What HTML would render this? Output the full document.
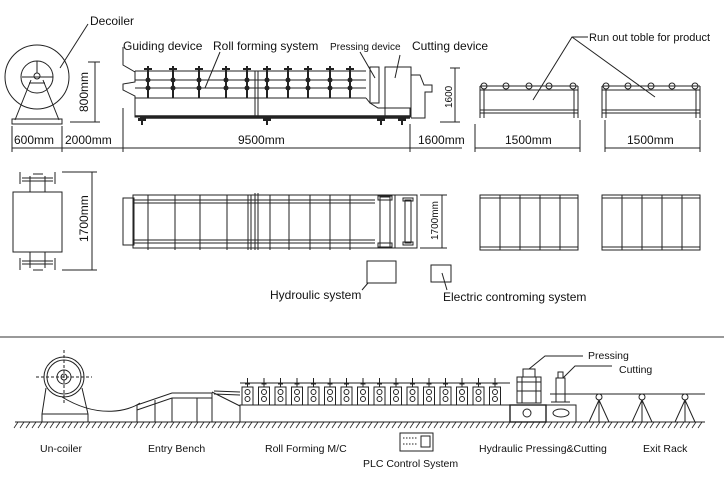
<!DOCTYPE html>
<html><head><meta charset="utf-8"><style>
html,body{margin:0;padding:0;background:#fff}
svg{display:block}
text{font-family:"Liberation Sans",Arial,sans-serif;fill:#111}
</style></head><body>
<svg width="724" height="484" viewBox="0 0 724 484" xmlns="http://www.w3.org/2000/svg">
<g stroke="#222" stroke-width="1" fill="none">
<!-- ===== TOP: decoiler side ===== -->
<circle cx="37" cy="77" r="32"/>
<circle cx="37" cy="77" r="16"/>
<circle cx="37" cy="76" r="3"/>
<line x1="22" y1="77" x2="53" y2="77"/>
<line x1="37" y1="61" x2="37" y2="73"/>
<path d="M31 80 L15 120 M43 80 L59 120 M29 83 L45 83"/>
<rect x="12" y="119" width="50" height="5"/>
<path d="M88 24 L60 68"/>
<!-- 800 dim -->
<path d="M95 62 L95 122 M88 62 L100 62 M70 122 L100 122"/>
<!-- bottom dim line -->
<path d="M12 148 L462 148 M475 148 L580 148 M605 148 L700 148"/>
<path d="M12 126 L12 152 M62 126 L62 152 M123 108 L123 152 M410 124 L410 152 M475 124 L475 152 M580 120 L580 152 M605 120 L605 152 M700 120 L700 152"/>
<!-- roll forming machine side -->
<path d="M135 71 L366 71 M135 80 L366 80 M135 88 L366 88 M135 98 L366 98"/>
<path d="M135 71 L135 82 L123 84 L123 90 L135 96 L135 117 L410 117 L410 108 L378 108 L370 103 L366 98"/>
<path d="M255 71 L255 117 M258 71 L258 117"/>
<path d="M135 116 L410 116 M140 118 L410 118" stroke-width="1.5"/>
<rect x="370" y="67" width="9" height="36"/>
<rect x="385" y="67" width="26" height="50"/>
<path d="M411 75 L420 75 L424 85 L432 85 L432 92 L425 92 L425 118 L411 118"/>
<!-- 1600 dim -->
<path d="M455 68 L455 122 M450 68 L460 68 M440 122 L460 122"/>
<path d="M123 47 L123 65 L135 72 M220 52 L205 88 M360 52 L375 78 M400 55 L395 78"/>
</g>
<g fill="#222">
<!-- rollers -->
<g id="r">
<circle cx="148" cy="80" r="2.5"/><circle cx="148" cy="88" r="2.5"/><rect x="147" y="66" width="2" height="32"/><rect x="144" y="68" width="8" height="2"/>
</g>
<use href="#r" x="25"/><use href="#r" x="51"/><use href="#r" x="78"/><use href="#r" x="99"/>
<use href="#r" x="119"/><use href="#r" x="140"/><use href="#r" x="160"/><use href="#r" x="182"/><use href="#r" x="202"/>
<rect x="138" y="118" width="8" height="3"/><rect x="141" y="118" width="2" height="7"/>
<rect x="263" y="118" width="8" height="3"/><rect x="266" y="118" width="2" height="7"/>
<rect x="377" y="118" width="8" height="3"/><rect x="380" y="118" width="2" height="7"/>
<rect x="398" y="118" width="8" height="3"/><rect x="401" y="118" width="2" height="7"/>
</g>
<!-- runout tables side -->
<g stroke="#222" fill="none">
<path d="M480 90 L578 90 M480 86 L578 86 M480 86 L480 118 M578 86 L578 118 M484 90 L484 118 M574 90 L574 118 M480 110 L578 110 M480 113 L578 113"/>
<path d="M602 90 L700 90 M602 86 L700 86 M602 86 L602 118 M700 86 L700 118 M606 90 L606 118 M696 90 L696 118 M602 110 L700 110 M602 113 L700 113"/>
<circle cx="484" cy="86" r="3"/><circle cx="506" cy="86" r="3"/><circle cx="529" cy="86" r="3"/><circle cx="549" cy="86" r="3"/><circle cx="573" cy="86" r="3"/>
<circle cx="606" cy="86" r="3"/><circle cx="628" cy="86" r="3"/><circle cx="651" cy="86" r="3"/><circle cx="672" cy="86" r="3"/><circle cx="695" cy="86" r="3"/>
<path d="M588 37 L572 37 L533 100 M572 37 L655 97"/>
<!-- ===== MIDDLE: plan view ===== -->
<rect x="13" y="192" width="49" height="60"/>
<path d="M20 172 L20 184 M55 172 L55 184 M22 178 L53 178 M22 181 L53 181 M30 176 L30 192 M45 176 L45 192 M33 174 L43 174"/>
<path d="M20 258 L20 270 M55 258 L55 270 M22 264 L53 264 M22 261 L53 261 M30 252 L30 268 M45 252 L45 268 M33 270 L43 270"/>
<path d="M92 172 L92 270 M62 172 L97 172 M62 270 L97 270"/>
<rect x="133" y="195" width="284" height="53"/>
<rect x="123" y="198" width="11" height="47"/>
<path d="M133 200 L375 200 M133 203 L375 203 M133 240 L375 240 M133 243 L375 243"/>
<path d="M148 195 L148 250 M175 195 L175 250 M200 195 L200 250 M227 195 L227 250 M248 195 L248 250 M251 195 L251 250 M255 193 L255 250 M258 193 L258 250 M270 195 L270 250 M289 195 L289 250 M310 195 L310 250 M330 195 L330 250 M350 195 L350 250"/>
<rect x="380" y="197" width="10" height="50"/><rect x="378" y="196" width="14" height="4"/><rect x="378" y="243" width="14" height="4"/>
<path d="M395 195 L395 248"/>
<rect x="405" y="200" width="6" height="43"/><rect x="403" y="198" width="10" height="3"/><rect x="403" y="242" width="10" height="3"/>
<path d="M442 195 L442 248 M420 195 L447 195 M420 248 L447 248"/>
<rect x="367" y="261" width="29" height="22"/>
<rect x="431" y="265" width="20" height="17"/>
<path d="M368 283 L362 290 M442 273 L447 290"/>
<rect x="480" y="195" width="98" height="55"/>
<path d="M480 198 L578 198 M480 247 L578 247 M500 195 L500 250 M520 195 L520 250 M540 195 L540 250 M560 195 L560 250"/>
<rect x="602" y="195" width="98" height="55"/>
<path d="M602 198 L700 198 M602 247 L700 247 M622 195 L622 250 M642 195 L642 250 M662 195 L662 250 M682 195 L682 250"/>
</g>
<!-- separator -->
<rect x="0" y="336" width="724" height="2" fill="#999"/>
<!-- ===== BOTTOM ===== -->
<g stroke="#222" fill="none">
<path d="M15 422 L705 422"/>
<path d="M18 422 l-4 6 M24 422 l-4 6 M30 422 l-4 6 M36 422 l-4 6 M42 422 l-4 6 M48 422 l-4 6 M54 422 l-4 6 M60 422 l-4 6 M66 422 l-4 6 M72 422 l-4 6 M78 422 l-4 6 M84 422 l-4 6 M90 422 l-4 6 M96 422 l-4 6 M102 422 l-4 6 M108 422 l-4 6 M114 422 l-4 6 M120 422 l-4 6 M126 422 l-4 6 M132 422 l-4 6 M138 422 l-4 6 M144 422 l-4 6 M150 422 l-4 6 M156 422 l-4 6 M162 422 l-4 6 M168 422 l-4 6 M174 422 l-4 6 M180 422 l-4 6 M186 422 l-4 6 M192 422 l-4 6 M198 422 l-4 6 M204 422 l-4 6 M210 422 l-4 6 M216 422 l-4 6 M222 422 l-4 6 M228 422 l-4 6 M234 422 l-4 6 M240 422 l-4 6 M246 422 l-4 6 M252 422 l-4 6 M258 422 l-4 6 M264 422 l-4 6 M270 422 l-4 6 M276 422 l-4 6 M282 422 l-4 6 M288 422 l-4 6 M294 422 l-4 6 M300 422 l-4 6 M306 422 l-4 6 M312 422 l-4 6 M318 422 l-4 6 M324 422 l-4 6 M330 422 l-4 6 M336 422 l-4 6 M342 422 l-4 6 M348 422 l-4 6 M354 422 l-4 6 M360 422 l-4 6 M366 422 l-4 6 M372 422 l-4 6 M378 422 l-4 6 M384 422 l-4 6 M390 422 l-4 6 M396 422 l-4 6 M402 422 l-4 6 M408 422 l-4 6 M414 422 l-4 6 M420 422 l-4 6 M426 422 l-4 6 M432 422 l-4 6 M438 422 l-4 6 M444 422 l-4 6 M450 422 l-4 6 M456 422 l-4 6 M462 422 l-4 6 M468 422 l-4 6 M474 422 l-4 6 M480 422 l-4 6 M486 422 l-4 6 M492 422 l-4 6 M498 422 l-4 6 M504 422 l-4 6 M510 422 l-4 6 M516 422 l-4 6 M522 422 l-4 6 M528 422 l-4 6 M534 422 l-4 6 M540 422 l-4 6 M546 422 l-4 6 M552 422 l-4 6 M558 422 l-4 6 M564 422 l-4 6 M570 422 l-4 6 M576 422 l-4 6 M582 422 l-4 6 M588 422 l-4 6 M594 422 l-4 6 M600 422 l-4 6 M606 422 l-4 6 M612 422 l-4 6 M618 422 l-4 6 M624 422 l-4 6 M630 422 l-4 6 M636 422 l-4 6 M642 422 l-4 6 M648 422 l-4 6 M654 422 l-4 6 M660 422 l-4 6 M666 422 l-4 6 M672 422 l-4 6 M678 422 l-4 6 M684 422 l-4 6 M690 422 l-4 6 M696 422 l-4 6 M702 422 l-4 6" stroke-width="0.8"/>
<!-- uncoiler -->
<circle cx="64" cy="377" r="20"/><circle cx="64" cy="377" r="17"/><circle cx="64" cy="377" r="7"/><circle cx="64" cy="377" r="3"/>
<path d="M36 377 L92 377 M64 350 L64 403" stroke-dasharray="3,2"/>
<path d="M46 388 L42 414 L42 422 M82 388 L88 414 L88 422 M42 414 L88 414"/>
<path d="M62 397 C100 420 130 410 140 403"/>
<!-- entry bench -->
<path d="M137 422 L137 405 L172 393 L212 393 L212 422 M137 410 L172 398 L212 398 M155 400 L155 422 M172 398 L172 422 M197 398 L197 422"/>
<path d="M214 391 L240 392 M214 394 L240 395 M212 392 L240 406"/>
<!-- roll former -->
<rect x="240" y="405" width="270" height="17"/>
<path d="M240 383 L510 383 M240 405 L510 405"/>
</g>
<g fill="none" stroke="#222">
<g id="s"><rect x="242" y="387" width="11" height="18"/><circle cx="247.5" cy="392" r="2.5"/><circle cx="247.5" cy="399" r="2.5"/><path d="M247.5 378 L247.5 387 M245 384 L250 384"/></g>
<use href="#s" x="16.5"/><use href="#s" x="33"/><use href="#s" x="49.5"/><use href="#s" x="66"/><use href="#s" x="82.5"/><use href="#s" x="99"/><use href="#s" x="115.5"/><use href="#s" x="132"/><use href="#s" x="148.5"/><use href="#s" x="165"/><use href="#s" x="181.5"/><use href="#s" x="198"/><use href="#s" x="214.5"/><use href="#s" x="231"/><use href="#s" x="247.5"/>
<!-- hydraulic -->
<rect x="510" y="405" width="36" height="17" stroke-width="1.4"/><circle cx="527" cy="413" r="4"/>
<rect x="546" y="405" width="30" height="17"/><ellipse cx="561" cy="413" rx="8" ry="4"/>
<rect x="523" y="369" width="12" height="8"/>
<rect x="517" y="377" width="24" height="26"/>
<path d="M517 382 L541 382 M517 391 L541 391 M522 377 L522 403 M536 377 L536 403"/>
<rect x="556" y="378" width="9" height="24"/><rect x="558" y="372" width="5" height="6"/><path d="M551 402 L570 402"/>
<path d="M550 394 L705 394"/>
<path d="M529 369 L545 356 L583 356 M563 378 L575 366 L612 366"/>
<circle cx="599" cy="397" r="3"/><path d="M599 400 L589 422 M599 400 L609 422 M599 400 L599 422"/>
<circle cx="642" cy="397" r="3"/><path d="M642 400 L632 422 M642 400 L652 422 M642 400 L642 422"/>
<circle cx="685" cy="397" r="3"/><path d="M685 400 L675 422 M685 400 L695 422 M685 400 L685 422"/>
<!-- PLC -->
<rect x="400" y="433" width="33" height="18"/><rect x="421" y="436" width="9" height="11"/>
<path d="M403 438 L418 438 M403 444 L418 444" stroke-dasharray="1.5,1.5"/>
</g>
<!-- ===== TEXT ===== -->
<g font-size="12">
<text x="90" y="25">Decoiler</text>
<text x="123" y="50">Guiding device</text>
<text x="213" y="50">Roll forming system</text>
<text x="330" y="50" font-size="10">Pressing device</text>
<text x="412" y="50">Cutting device</text>
<text x="589" y="41" font-size="11">Run out toble for product</text>
<text x="14" y="144">600mm</text>
<text x="65" y="144">2000mm</text>
<text x="238" y="144">9500mm</text>
<text x="418" y="144">1600mm</text>
<text x="505" y="144">1500mm</text>
<text x="627" y="144">1500mm</text>
<text transform="translate(88,112) rotate(-90)">800mm</text>
<text transform="translate(88,242) rotate(-90)">1700mm</text>
<text transform="translate(438,240) rotate(-90)" font-size="10">1700mm</text>
<text transform="translate(452,108) rotate(-90)" font-size="10">1600</text>
<text x="270" y="299">Hydroulic system</text>
<text x="443" y="301">Electric controming system</text>
</g>
<g font-size="10.5">
<text x="588" y="359">Pressing</text>
<text x="619" y="373">Cutting</text>
<text x="40" y="452">Un-coiler</text>
<text x="148" y="452">Entry Bench</text>
<text x="265" y="452">Roll Forming M/C</text>
<text x="363" y="467">PLC Control System</text>
<text x="479" y="452">Hydraulic Pressing&amp;Cutting</text>
<text x="643" y="452">Exit Rack</text>
</g>
</svg>
</body></html>
